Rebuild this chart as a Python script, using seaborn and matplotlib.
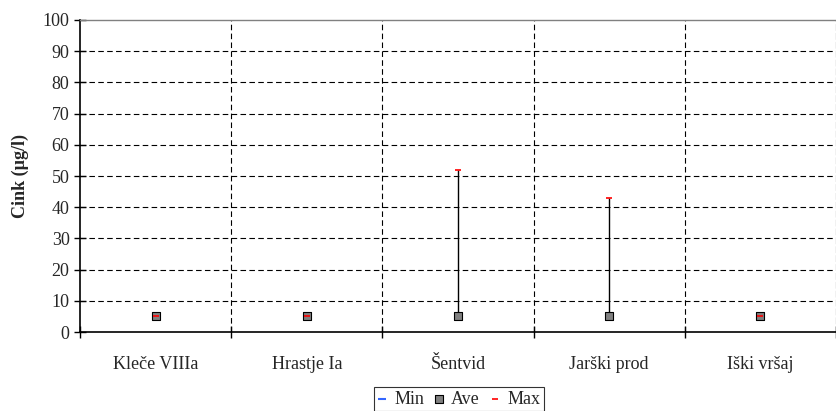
import matplotlib
matplotlib.use("Agg")
import matplotlib.pyplot as plt
import seaborn as sns
import pandas as pd
import numpy as np

categories = ["Kleče VIIIa", "Hrastje Ia", "Šentvid", "Jarški prod", "Iški vršaj"]
min_vals = [5, 5, 5, 5, 5]
ave_vals = [5, 5, 5, 5, 5]
max_vals = [5, 5, 52, 43, 5]
y_ticks = list(range(0, 101, 10))

sns.set_style("white")
plt.rcParams["font.family"] = ["Liberation Serif", "DejaVu Serif"]

df = pd.DataFrame({"site": categories, "Min": min_vals, "Ave": ave_vals, "Max": max_vals})

fig = plt.figure(figsize=(8.37, 4.11), dpi=100)
ax = fig.add_axes([80/837, 1-332/411, (836-80)/837, (332-20)/411])

n = len(categories)
pos = np.arange(n)
ax.vlines(pos, df["Min"], df["Max"], color="black", lw=1, zorder=3)

sns.scatterplot(data=df, x="site", y="Min", marker="_", color="#3366ff", s=30,
                linewidth=1.5, ax=ax, label="Min", zorder=4)
sns.scatterplot(data=df, x="site", y="Ave", marker="s", color="#808080", edgecolor="black",
                s=38, linewidth=0.8, ax=ax, label="Ave", zorder=5)
sns.scatterplot(data=df, x="site", y="Max", marker="_", color="#ff0000", s=22,
                linewidth=1.2, ax=ax, label="Max", zorder=6)

ax.set_xlim(-0.5, n - 0.5)
ax.set_ylim(0, 100)
ax.set_yticks(y_ticks)
ax.set_xticks(pos)
ax.set_xticklabels(categories, fontsize=13)
ax.set_xticks(np.arange(-0.5, n, 1.0), minor=True)
ax.tick_params(axis="x", which="major", bottom=False, length=0, pad=17)
ax.tick_params(axis="x", which="minor", bottom=True, direction="inout", length=9, width=1, color="black")
ax.tick_params(axis="y", which="major", left=True, direction="inout", length=9, width=1, color="black",
               labelsize=13, pad=3)
ax.set_yticklabels([str(v) for v in y_ticks], fontsize=13)

for y in y_ticks[1:-1]:
    ax.axhline(y, color="black", lw=0.8, ls=(0, (5, 3)), zorder=1)
for x in np.arange(0.5, n - 0.5, 1.0):
    ax.axvline(x, color="black", lw=0.8, ls=(0, (5, 3)), zorder=1)

ax.spines["left"].set_color("black")
ax.spines["left"].set_linewidth(1.2)
ax.spines["bottom"].set_color("black")
ax.spines["bottom"].set_linewidth(1.2)
ax.spines["top"].set_color("#808080")
ax.spines["top"].set_linewidth(1)
ax.spines["right"].set_visible(True)
ax.spines["right"].set_color("black")
ax.spines["right"].set_linestyle((0, (5, 3)))
ax.spines["right"].set_linewidth(0.8)

ax.set_xlabel("")
ax.set_ylabel("Cink (µg/l)", fontsize=13, fontweight="bold", labelpad=10)

handles, labels = ax.get_legend_handles_labels()
ax.legend_.remove()
leg = fig.legend(handles, labels, loc="upper center", bbox_to_anchor=(459/837, 1-387/411),
                 ncol=3, frameon=True, fancybox=False, fontsize=13, handlelength=0.5,
                 handletextpad=0.4, columnspacing=0.6, borderpad=0.2, borderaxespad=0)
leg.get_frame().set_edgecolor("black")
leg.get_frame().set_linewidth(0.8)

fig.savefig("out.png", dpi=100)
